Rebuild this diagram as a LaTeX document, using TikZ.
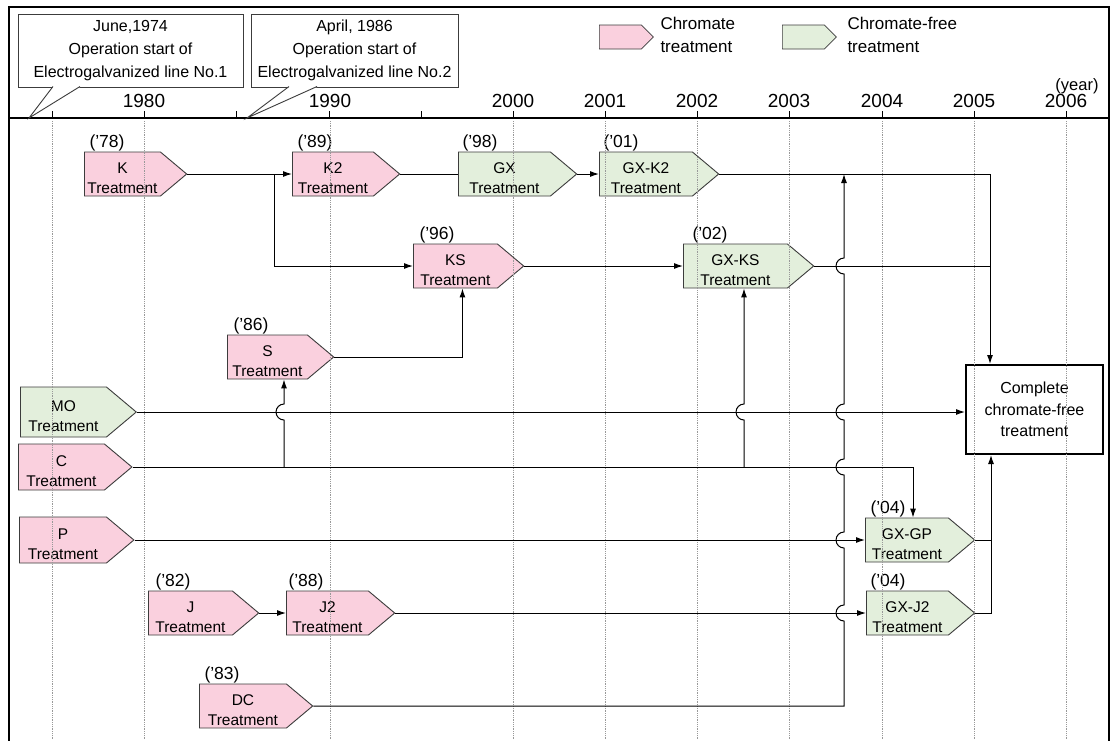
\documentclass[tikz,border=0pt]{standalone}
\usepackage{fontspec}
\setmainfont{Liberation Sans}
\usetikzlibrary{shapes.symbols,arrows.meta}
\definecolor{chrpink}{RGB}{250,208,222}
\definecolor{chrgreen}{RGB}{227,239,220}
\definecolor{edgegray}{RGB}{60,60,60}

\begin{document}
\begin{tikzpicture}[x=1pt,y=-1pt,line width=1pt,>={Latex[length=9pt,width=6pt]},
  tbox/.style={shape=signal, signal to=east, signal pointer angle=80, draw=edgegray, line width=0.9pt,
    text width=#1, align=center, inner xsep=0pt, inner ysep=1pt, minimum height=44pt, text height=19pt,
    font=\fontsize{15.5}{20.5}\selectfont, anchor=west},
  chr/.style={tbox=#1, fill=chrpink},
  cfree/.style={tbox=#1, fill=chrgreen},
  yr/.style={anchor=base west, inner sep=0pt, font=\fontsize{17.5}{20}\selectfont},
  axyear/.style={inner sep=0pt, font=\fontsize{19}{20}\selectfont},
  event/.style={draw=edgegray, fill=white, line width=0.9pt, minimum width=225pt, minimum height=73pt,
    align=center, inner sep=0pt, font=\fontsize{16}{23}\selectfont},
  vline/.style={gray!80, densely dotted, line width=0.8pt}]
        \useasboundingbox (0,0) rectangle (1113,740);
        \fill[white] (0,0) rectangle (1113,740);

        % frame and time axis
        \draw[line width=1.8pt] (9,760) -- (9,7) -- (1109,7) -- (1109,760);
        \draw[line width=1.3pt] (9,118) -- (1109,118);
        \draw (52,111) -- (52,118) (144,111) -- (144,118) (236,111) -- (236,118)
            (329,111) -- (329,118) (421,111) -- (421,118) (513,111) -- (513,118)
            (605,111) -- (605,118) (697,111) -- (697,118) (789,111) -- (789,118)
            (882,111) -- (882,118) (974,111) -- (974,118) (1066,111) -- (1066,118);

        \node[axyear] (y1980) at (144,101) {1980};
        \node[axyear] (y1990) at (330,101) {1990};
        \node[axyear] (y2000) at (513,101) {2000};
        \node[axyear] (y2001) at (605,101) {2001};
        \node[axyear] (y2002) at (697,101) {2002};
        \node[axyear] (y2003) at (789,101) {2003};
        \node[axyear] (y2004) at (882,101) {2004};
        \node[axyear] (y2005) at (974,101) {2005};
        \node[axyear] (y2006) at (1066,101) {2006};
        \node[inner sep=0pt, font=\fontsize{16.5}{18}\selectfont] (unit) at (1077,86) {(year)};

        % line start events
        \node[event] (ev1) at (130.5,50.5) {June,1974\\Operation start of\\Electrogalvanized line No.1};
        \node[event, minimum width=207pt] (ev2) at (354.5,50.5) {April, 1986\\Operation start of\\Electrogalvanized line No.2};
        \coordinate (st1) at (29,118);
        \coordinate (st2) at (247,118);
        \fill[white] (53,87) -- (st1) -- (80,87) -- cycle;
        \draw[edgegray, line width=0.9pt] (53,86.5) -- (st1) -- (80,86.5);
        \fill[white] (289,87) -- (st2) -- (317,87) -- cycle;
        \draw[edgegray, line width=0.9pt] (289,86.5) -- (st2) -- (317,86.5);

        % legend
        \node[chr=42pt, minimum height=24pt, text height=0pt, signal pointer angle=90, line width=0.7pt] (lgC) at (599,37) {};
        \node[anchor=west, align=left, inner sep=0pt, font=\fontsize{17}{23}\selectfont] (lgCt) at (660,35) {Chromate\\treatment};
        \node[cfree=42pt, minimum height=24pt, text height=0pt, signal pointer angle=90, line width=0.7pt] (lgF) at (782,37) {};
        \node[anchor=west, align=left, inner sep=0pt, font=\fontsize{17}{23}\selectfont] (lgFt) at (847,35) {Chromate-free\\treatment};

        % treatments
        \node[chr=76pt] (K) at (84,174) {K\\Treatment};
        \node[chr=81pt] (K2) at (292,174) {K2\\Treatment};
        \node[cfree=92pt] (GX) at (458,174) {GX\\Treatment};
        \node[cfree=93pt] (GXK2) at (599,174) {GX-K2\\Treatment};
        \node[chr=84pt] (KS) at (413,266) {KS\\Treatment};
        \node[cfree=104pt] (GXKS) at (683,266) {GX-KS\\Treatment};
        \node[chr=80pt] (S) at (227,357) {S\\Treatment};
        \node[cfree=86pt, minimum height=50pt] (MO) at (20,412) {MO\\Treatment};
        \node[chr=86pt, minimum height=46pt] (C) at (18,467) {C\\Treatment};
        \node[chr=87pt, minimum height=46pt] (P) at (19,540) {P\\Treatment};
        \node[cfree=83pt] (GXGP) at (865,540) {GX-GP\\Treatment};
        \node[chr=84pt] (J) at (148,613) {J\\Treatment};
        \node[chr=82pt] (J2) at (286,613) {J2\\Treatment};
        \node[cfree=82pt] (GXJ2) at (866,613) {GX-J2\\Treatment};
        \node[chr=87pt] (DC) at (199,706) {DC\\Treatment};
        \node[draw, line width=2pt, minimum width=137pt, minimum height=89pt, align=center,
            font=\fontsize{16}{21.5}\selectfont] (Comp) at (1034.5,409.5) {Complete\\chromate-free\\treatment};

        \node[yr] (yK) at ([shift={(5,-27)}]K.west) {(’78)};
        \node[yr] (yK2) at ([shift={(5,-27)}]K2.west) {(’89)};
        \node[yr] (yGX) at ([shift={(4,-27)}]GX.west) {(’98)};
        \node[yr] (yGXK2) at ([shift={(4,-27)}]GXK2.west) {(’01)};
        \node[yr] (yKS) at ([shift={(6,-27)}]KS.west) {(’96)};
        \node[yr] (yGXKS) at ([shift={(9,-27)}]GXKS.west) {(’02)};
        \node[yr] (yS) at ([shift={(6,-27)}]S.west) {(’86)};
        \node[yr] (yGXGP) at ([shift={(5,-27)}]GXGP.west) {(’04)};
        \node[yr] (yJ) at ([shift={(7,-27)}]J.west) {(’82)};
        \node[yr] (yJ2) at ([shift={(2,-27)}]J2.west) {(’88)};
        \node[yr] (yGXJ2) at ([shift={(4,-27)}]GXJ2.west) {(’04)};
        \node[yr] (yDC) at ([shift={(5,-27)}]DC.west) {(’83)};

        % year grid
        \draw[vline] (52,121) -- (52,740);
        \draw[vline] (144,121) -- (144,740);
        \draw[vline] (330,121) -- (330,740);
        \draw[vline] (513,121) -- (513,740);
        \draw[vline] (605,121) -- (605,740);
        \draw[vline] (697,121) -- (697,740);
        \draw[vline] (789,121) -- (789,740);
        \draw[vline] (882,121) -- (882,740);
        \draw[vline] (974,121) -- (974,740);
        \draw[vline] (1066,121) -- (1066,740);

        % connections
        \coordinate (jK) at (274,174);
        \coordinate (jK2) at (844,174);
        \coordinate (rK2) at (990,174);
        \coordinate (rJ2) at (991,613);
        \coordinate (jC1) at (284,467);
        \coordinate (jC2) at (744,467);
        \coordinate (jGP) at (913,467);

        \draw[->] (K.east) -- (K2.west);
        \draw[->] (jK) |- (KS.west);
        \draw (K2.east) -- (GX.west);
        \draw[->] (GX.east) -- (GXK2.west);
        \draw[->] (KS.east) -- (GXKS.west);
        \draw[->] (S.east) -| ([xshift=7pt]KS.south);
        \draw[->] (GXK2.east) -- (rK2) -- (rK2 |- Comp.north);
        \draw (GXKS.east) -- (GXKS.east -| rK2);
        \draw[->] (MO.east) -- (MO.east -| Comp.west);
        \draw[->] (C.east) -- (jGP) -- (jGP |- GXGP.north);
        \draw[->] (jC1) -- (284,420) arc[start angle=90, end angle=270, radius=8] -- (jC1 |- S.south);
        \draw[->] (jC2) -- (744,420) arc[start angle=90, end angle=270, radius=8] -- (jC2 |- GXKS.south);
        \draw[->] (P.east) -- (GXGP.west);
        \draw[->] (J.east) -- (J2.west);
        \draw[->] (J2.east) -- (GXJ2.west);
        \draw[->] (DC.east) -- (844,706) -- (844,621) arc[start angle=90, end angle=270, radius=8]
            -- (844,548) arc[start angle=90, end angle=270, radius=8]
            -- (844,475) arc[start angle=90, end angle=270, radius=8]
            -- (844,420) arc[start angle=90, end angle=270, radius=8]
            -- (844,274) arc[start angle=90, end angle=270, radius=8] -- (jK2);
        \draw (GXGP.east) -- (GXGP.east -| rJ2);
        \draw[->] (GXJ2.east) -- (rJ2) -- (rJ2 |- Comp.south);
    \end{tikzpicture}
\end{document}
